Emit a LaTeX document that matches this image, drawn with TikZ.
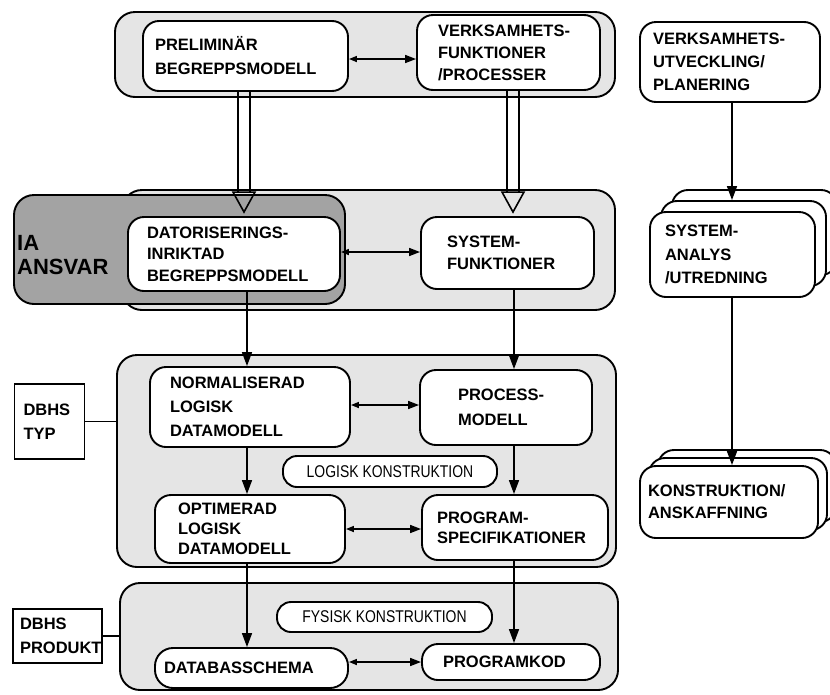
\documentclass[tikz,border=0pt]{standalone}
\usepackage{fontspec}
\setmainfont{Liberation Sans}
\newfontfamily\narrowsans[FakeStretch=0.82]{Liberation Sans}
\usetikzlibrary{arrows.meta}
\begin{document}
\begin{tikzpicture}[x=1pt,y=-1pt,
  lbl/.style={font=\bfseries\fontsize{16.5}{20}\selectfont},
  grp/.style={draw, line width=1.9pt, rounded corners=20pt, fill=black!10, inner sep=0pt},
  iabox/.style={draw, line width=1.9pt, rounded corners=20pt, fill=black!36, inner sep=0pt},
  bx/.style={draw, line width=1.9pt, rounded corners=16pt, fill=white, align=left, inner ysep=0pt, lbl},
  pill/.style={draw, line width=1.9pt, rounded corners=14pt, fill=white, inner sep=0pt,
    font=\narrowsans\fontsize{17}{19}\selectfont},
  tagbox/.style={draw, line width=1.9pt, fill=white, align=left, inner ysep=0pt, lbl},
  flow/.style={line width=1.6pt, -{Triangle[length=14pt,width=10pt]}},
  link/.style={line width=1.6pt, {Triangle[length=8pt,width=6pt]}-{Triangle[length=11pt,width=8pt]}},
  wire/.style={line width=1.9pt},
  shaft/.style={line width=1.6pt},
]
\useasboundingbox (0,0) rectangle (830,694);

% ---- grouping panels ----
\node[grp, minimum width=500pt, minimum height=85pt] (g1) at (365,54.5) {};
\node[grp, minimum width=493pt, minimum height=120pt] (g2) at (368.5,250) {};
\node[iabox, minimum width=331pt, minimum height=109pt] (ia) at (179.5,249.5) {};
\node[anchor=west, align=left, inner sep=2pt, font=\bfseries\fontsize{22}{24}\selectfont] (iatext) at (15,255) {IA\\ANSVAR};
\node[grp, minimum width=499pt, minimum height=212pt] (g3) at (366.5,461) {};
\node[grp, minimum width=498pt, minimum height=107pt] (g4) at (369,636.5) {};

% ---- top row ----
\node[bx, minimum height=70pt, text width=181pt, inner xsep=12pt, font=\bfseries\fontsize{16.5}{24}\selectfont] (prelim) at (245.5,56) {PRELIMIN\"AR\\BEGREPPSMODELL};
\node[bx, minimum height=75pt, text width=141pt, inner xsep=21pt, font=\bfseries\fontsize{16.5}{22}\selectfont] (verkf) at (508.5,52.5) {VERKSAMHETS-\\FUNKTIONER\\/PROCESSER};
\node[bx, minimum height=80pt, text width=154pt, inner xsep=13pt, font=\bfseries\fontsize{16.5}{23}\selectfont] (verkut) at (730,62) {VERKSAMHETS-\\UTVECKLING/\\PLANERING};

% ---- second row ----
\node[bx, minimum height=74pt, text width=174pt, inner xsep=19pt, font=\bfseries\fontsize{16.5}{21.5}\selectfont] (dator) at (234,254) {DATORISERINGS-\\INRIKTAD\\BEGREPPSMODELL};
\node[bx, minimum height=72pt, text width=121pt, inner xsep=26pt, font=\bfseries\fontsize{16.5}{22}\selectfont] (sysf) at (507.5,253) {SYSTEM-\\FUNKTIONER};

% stacked system analysis cards
\node[bx, minimum height=85pt, text width=135pt, inner xsep=15pt] (sysanC) at (754.5,232.5) {};
\node[bx, minimum height=85pt, text width=135pt, inner xsep=15pt] (sysanB) at (743.5,243.5) {};
\node[bx, minimum height=85pt, text width=135pt, inner xsep=15pt, font=\bfseries\fontsize{16.5}{23.5}\selectfont] (sysan) at (732.5,254.5) {SYSTEM-\\ANALYS\\/UTREDNING};

% ---- logical construction ----
\node[tagbox, minimum height=75pt, text width=52pt, inner xsep=9pt, font=\bfseries\fontsize{16.5}{24}\selectfont] (typ) at (49.5,421.5) {DBHS\\TYP};
\node[bx, minimum height=80pt, text width=160pt, inner xsep=20pt, font=\bfseries\fontsize{16.5}{24}\selectfont] (norm) at (250,407) {NORMALISERAD\\LOGISK\\DATAMODELL};
\node[bx, minimum height=75pt, text width=96pt, inner xsep=38pt, font=\bfseries\fontsize{16.5}{25}\selectfont] (procm) at (506,407.5) {PROCESS-\\MODELL};
\node[pill, minimum width=214pt, minimum height=31pt] (logk) at (390,471.5) {LOGISK KONSTRUKTION};
\node[bx, minimum height=68pt, text width=144pt, inner xsep=23pt] (optim) at (250,529) {OPTIMERAD\\LOGISK\\DATAMODELL};
\node[bx, minimum height=65pt, text width=156pt, inner xsep=15pt] (progspec) at (515,527.5) {PROGRAM-\\SPECIFIKATIONER};

% stacked construction cards
\node[bx, minimum height=72pt, text width=162pt, inner xsep=8pt] (konstC) at (747,486) {};
\node[bx, minimum height=72pt, text width=162pt, inner xsep=8pt] (konstB) at (738,494) {};
\node[bx, minimum height=72pt, text width=162pt, inner xsep=8pt, font=\bfseries\fontsize{16.5}{22}\selectfont] (konst) at (729,502) {KONSTRUKTION/\\ANSKAFFNING};

% ---- physical construction ----
\node[tagbox, minimum height=54pt, text width=75pt, inner xsep=7pt, font=\bfseries\fontsize{16.5}{24}\selectfont] (prod) at (57.5,636) {DBHS\\PRODUKT};
\node[pill, minimum width=215pt, minimum height=30pt] (fysk) at (384.5,617) {FYSISK KONSTRUKTION};
\node[bx, rounded corners=18pt, minimum height=40pt, text width=175pt, inner xsep=9pt] (dbs) at (251.5,668) {DATABASSCHEMA};
\node[bx, minimum height=36pt, text width=136pt, inner xsep=21pt] (progkod) at (511,662) {PROGRAMKOD};

% ---- column positions ----
\coordinate (cl) at (247,0);
\coordinate (cr) at (514,0);
\coordinate (cx) at (732,0);
\coordinate (hl) at (244,0);
\coordinate (hr) at (513,0);

% ---- hollow double-line arrows into the second row ----
\foreach \a/\b/\h in {prelim/dator/hl, verkf/sysf/hr} {
  \coordinate (tip\b) at ([yshift=4pt]\b.north -| \h);
  \draw[shaft] ([xshift=-6pt]\a.south -| \h) -- ([xshift=-6pt,yshift=20pt]tip\b);
  \draw[shaft] ([xshift=6pt]\a.south -| \h) -- ([xshift=6pt,yshift=20pt]tip\b);
  \draw[shaft, line join=miter] ([xshift=-11pt,yshift=20pt]tip\b) -- (tip\b) -- ([xshift=11pt,yshift=20pt]tip\b) -- cycle;
}

% ---- vertical flows ----
\draw[flow] (dator.south -| cl) -- (norm.north -| cl);
\draw[flow] (sysf.south -| cr) -- (procm.north -| cr);
\draw[flow] (norm.south -| cl) -- (optim.north -| cl);
\draw[flow] (procm.south -| cr) -- (progspec.north -| cr);
\draw[flow] (optim.south -| cl) -- (dbs.north -| cl);
\draw[flow] (progspec.south -| cr) -- (progkod.north -| cr);
\draw[flow] (verkut.south -| cx) -- (sysanB.north -| cx);
\draw[flow] (sysan.south -| cx) -- (konst.north -| cx);

% ---- two-way links ----
\coordinate (y1) at (0,59);
\coordinate (y2) at (0,252);
\coordinate (y3) at (0,405);
\coordinate (y4) at (0,529);
\coordinate (y5) at (0,662);
\draw[link] (prelim.east |- y1) -- (verkf.west |- y1);
\draw[link] (dator.east |- y2) -- (sysf.west |- y2);
\draw[link] (norm.east |- y3) -- (procm.west |- y3);
\draw[link] (optim.east |- y4) -- (progspec.west |- y4);
\draw[link] (dbs.east |- y5) -- (progkod.west |- y5);

% ---- DBHS tags ----
\draw[wire] (typ.east) -- (typ.east -| g3.west);
\draw[wire] (prod.east) -- (prod.east -| g4.west);
\end{tikzpicture}
\end{document}
